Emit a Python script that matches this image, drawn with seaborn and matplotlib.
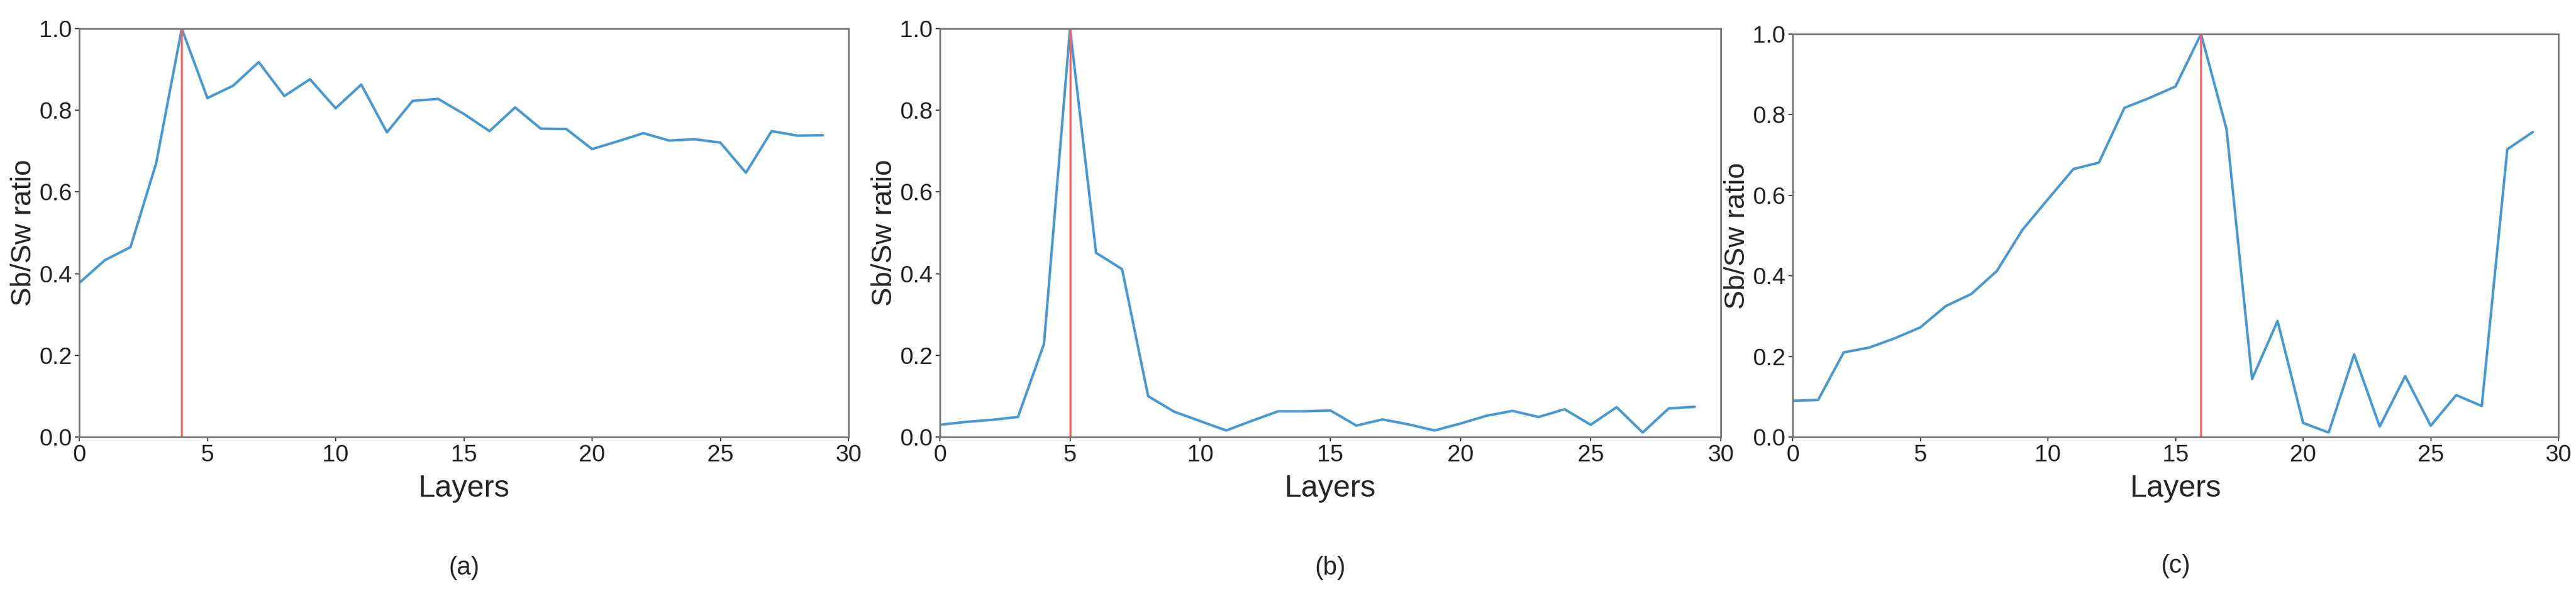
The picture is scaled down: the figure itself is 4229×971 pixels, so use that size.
import numpy as np
import pandas as pd
import matplotlib
matplotlib.use("Agg")
import matplotlib.pyplot as plt
import seaborn as sns

sns.set_theme(style="white")
plt.rcParams['font.family'] = ['Liberation Sans', 'DejaVu Sans']

layers = list(range(30))
ratio_a = [0.377, 0.433, 0.465, 0.670, 1.0, 0.830, 0.860, 0.918, 0.835, 0.876,
           0.805, 0.863, 0.746, 0.823, 0.828, 0.791, 0.749, 0.807, 0.755, 0.754,
           0.705, 0.724, 0.744, 0.726, 0.729, 0.721, 0.647, 0.749, 0.738, 0.739]
ratio_b = [0.030, 0.037, 0.042, 0.049, 0.228, 1.0, 0.451, 0.411, 0.100, 0.062,
           0.039, 0.016, 0.040, 0.063, 0.063, 0.065, 0.028, 0.043, 0.031, 0.016,
           0.033, 0.052, 0.064, 0.049, 0.068, 0.030, 0.073, 0.011, 0.070, 0.074]
ratio_c = [0.090, 0.092, 0.210, 0.222, 0.245, 0.272, 0.325, 0.355, 0.412, 0.514,
           0.590, 0.665, 0.681, 0.817, 0.842, 0.870, 1.0, 0.764, 0.144, 0.288,
           0.035, 0.011, 0.205, 0.026, 0.151, 0.028, 0.104, 0.077, 0.714, 0.757]
peaks = [4, 5, 16]
captions = ["(a)", "(b)", "(c)"]

W, H = 4229, 971
fig = plt.figure(figsize=(W / 100, H / 100), dpi=100)
boxes = [(130, 1393, 47, 718), (1543, 2825, 47, 718), (2943, 4200, 56, 718)]
for (x0, x1, y0, y1), vals, pk, cap in zip(boxes, [ratio_a, ratio_b, ratio_c], peaks, captions):
    ax = fig.add_axes([x0 / W, 1 - y1 / H, (x1 - x0) / W, (y1 - y0) / H])
    df = pd.DataFrame({"Layers": layers, "ratio": vals})
    sns.lineplot(data=df, x="Layers", y="ratio", ax=ax, color="#4a98d0", linewidth=3)
    ax.axvline(pk, ymin=0, ymax=1, color="#f26464", linewidth=2.5)
    ax.set_xlim(0, 30)
    ax.set_ylim(0, 1.0)
    ax.set_xticks([0, 5, 10, 15, 20, 25, 30])
    ax.set_yticks([0, 0.2, 0.4, 0.6, 0.8, 1.0])
    ax.yaxis.set_major_formatter(matplotlib.ticker.FormatStrFormatter('%.1f'))
    ax.tick_params(axis='both', labelsize=28, length=5, width=1.2, direction='out',
                   left=True, bottom=True, colors='#222222')
    ax.set_xlabel("Layers", fontsize=36, labelpad=10)
    ax.set_ylabel("Sb/Sw ratio", fontsize=34, labelpad=2)
    for s in ax.spines.values():
        s.set_color("#777777")
        s.set_linewidth(2)
    ax.text(0.5, -0.32, cap, transform=ax.transAxes, ha='center', va='center', fontsize=30)

fig.savefig("out.png", dpi=100)
